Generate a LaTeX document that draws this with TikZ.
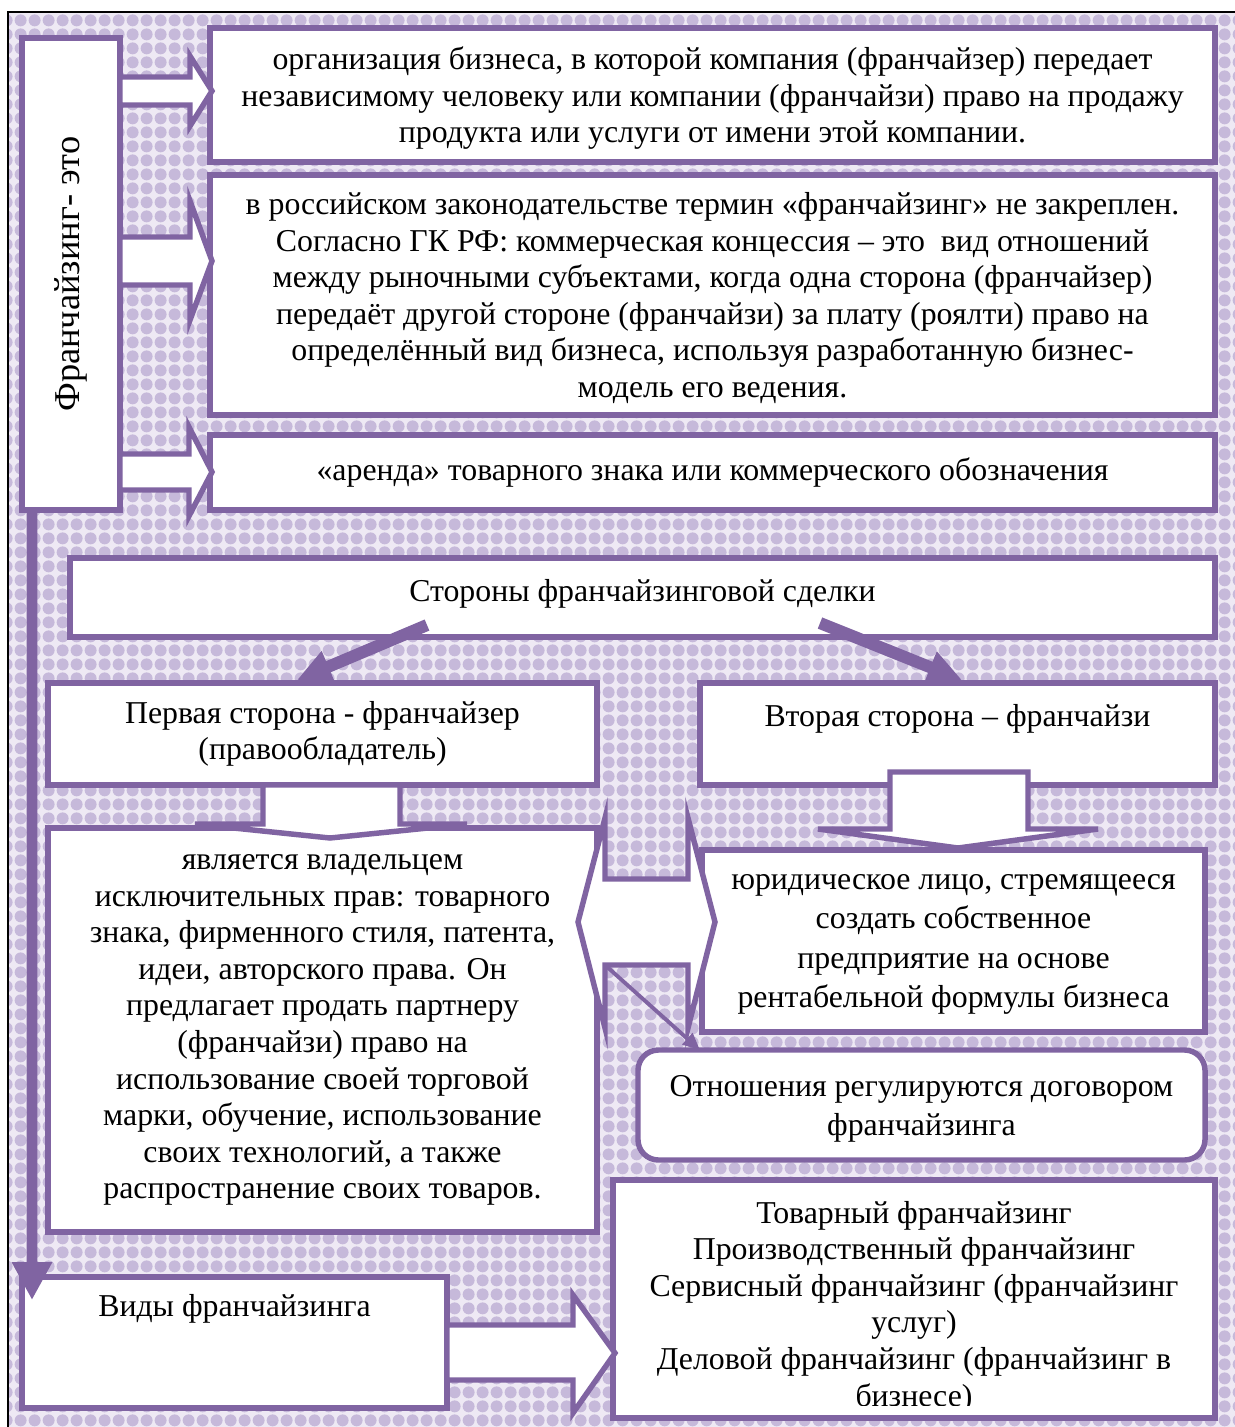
\documentclass[tikz,border=0pt]{standalone}
\usepackage{fontspec}
\setmainfont{Liberation Serif}
\usepackage{graphicx}
\usetikzlibrary{arrows.meta,patterns.meta,calc}
\definecolor{lilac}{HTML}{8064A2}
\definecolor{pearl}{HTML}{C6B9DA}
\definecolor{haze}{HTML}{EEE9F4}
\tikzdeclarepattern{
	name=pearls,
	type=uncolored,
	bottom left={(0pt,0pt)},
	top right={(6pt,6pt)},
	tile size={(6pt,6pt)},
	code={\fill (3pt,3pt) circle (2.7pt);}
}
\begin{document}
\begin{tikzpicture}[x=0.44pt,y=-0.44pt,
		box/.style={draw=lilac,line width=2.4pt,fill=white,inner sep=0pt,outer sep=0pt,
			align=center,font=\fontsize{14}{16.1}\selectfont},
		blockarrow/.style={draw=lilac,line width=2.4pt,fill=white,line join=miter},
		fat/.style={lilac,line width=5.3pt,-{Triangle[length=15pt,width=14pt]}},
		slim/.style={lilac,line width=1.7pt,-{Triangle[length=7.5pt,width=6.5pt]}}]
		% background stuff
		\useasboundingbox (0,0) rectangle (1235,1427);
		\fill[haze] (8,12) rectangle (1235,1427);
		\fill[pattern=pearls,pattern color=pearl] (8,12) rectangle (1235,1427);
		\draw[line width=0.7pt] (8,1427) -- (8,12) -- (1235,12);
		% boxes
		\node[box,minimum width=43.1pt,minimum height=207.7pt,font=\fontsize{16}{18}\selectfont]
			(lbl) at (71,274) {\rotatebox{90}{Франчайзинг- это}};
		\node[box,minimum width=442.2pt,minimum height=59pt,text depth=0pt] (defA) at (712.5,95)
			{организация бизнеса, в которой компания (франчайзер) передает\\
			независимому человеку или компании (франчайзи) право на продажу\\
			продукта или услуги от имени этой компании.};
		\node[box,minimum width=442.2pt,minimum height=105.6pt,text depth=-2pt] (defB) at (712.5,295)
			{в российском законодательстве термин «франчайзинг» не закреплен.\\
			Согласно ГК РФ: коммерческая концессия – это\ \ вид отношений\\
			между рыночными субъектами, когда одна сторона (франчайзер)\\
			передаёт другой стороне (франчайзи) за плату (роялти) право на\\
			определённый вид бизнеса, используя разработанную бизнес-\\
			модель его ведения.};
		\node[box,minimum width=442.2pt,minimum height=33pt] (defC) at (712.5,472.5)
			{«аренда» товарного знака или коммерческого обозначения};
		\node[box,minimum width=503.8pt,minimum height=34.8pt,text depth=6pt] (sides) at (642.5,597.5)
			{Стороны франчайзинговой сделки};
		\node[box,minimum width=241.6pt,minimum height=44.9pt] (first) at (322.5,734)
			{Первая сторона - франчайзер\\ (правообладатель)};
		\node[box,minimum width=226.6pt,minimum height=44.9pt] (second) at (957.5,734)
			{Вторая сторона – франчайзи\\ \mbox{}};
		\node[box,minimum width=241.6pt,minimum height=177.8pt] (owner) at (322.5,1030)
			{является владельцем\\ исключительных прав: товарного\\
			знака, фирменного стиля, патента,\\ идеи, авторского права. Он\\
			предлагает продать партнеру\\ (франчайзи) право на\\
			использование своей торговой\\ марки, обучение, использование\\
			своих технологий, а также\\ распространение своих товаров.};
		\node[box,minimum width=221.3pt,minimum height=80.1pt,text depth=-3pt,
			font=\fontsize{14}{17.2}\selectfont] (licensee) at (953.5,941)
			{юридическое лицо, стремящееся\\ создать собственное\\
			предприятие на основе\\ рентабельной формулы бизнеса};
		\node[box,minimum width=249.5pt,minimum height=48.4pt,rounded corners=9pt,text depth=-2pt,
			font=\fontsize{14}{17.2}\selectfont] (contract) at (921.5,1105)
			{Отношения регулируются договором\\ франчайзинга};
		\node[box,minimum width=187pt,minimum height=57.6pt] (kinds) at (234.5,1342.5)
			{Виды франчайзинга\\ \mbox{}\\ \mbox{}};
		\node[box,minimum width=264.9pt,minimum height=104.7pt] (types) at (914,1299) {};
		\begin{scope}
			\clip (617,1184) rectangle (1211,1405);
			\node[align=center,font=\fontsize{14}{16.1}\selectfont] (typelist) at (914,1307)
				{Товарный франчайзинг\\ Производственный франчайзинг\\
				Сервисный франчайзинг (франчайзинг\\ услуг)\\
				Деловой франчайзинг (франчайзинг в\\ бизнесе)};
		\end{scope}
		% block arrows
		\draw[blockarrow] (120,77) -- (190,77) -- (190,56) -- (212,91) -- (190,126) -- (190,105) -- (120,105) -- cycle;
		\draw[blockarrow] (120,237) -- (190,237) -- (190,201) -- (212,261) -- (190,320) -- (190,285) -- (120,285) -- cycle;
		\draw[blockarrow] (120,454) -- (189,454) -- (189,427) -- (212,472) -- (189,516) -- (189,490) -- (120,490) -- cycle;
		\draw[blockarrow] (447,1325) -- (573,1325) -- (573,1295) -- (615,1353) -- (573,1413) -- (573,1380) -- (447,1380) -- cycle;
		\draw[blockarrow] (263,785) -- (263,824) -- (195,824) -- (330,838) -- (467,824) -- (400,824) -- (400,785) -- cycle;
		\draw[blockarrow] (890,772) -- (890,829) -- (818,829) -- (958,848) -- (1098,829) -- (1028,829) -- (1028,772) -- cycle;
		\draw[blockarrow] (578,922) -- (605,818) -- (605,879) -- (688,879) -- (688,818) -- (715,922)
			-- (688,1028) -- (688,965) -- (605,965) coordinate (fork) -- (605,1028) -- cycle;
		% line arrows
		\draw[fat] ($(sides.south west)+(357,-12)$) -- ($(first.north west)+(249,-3)$);
		\draw[fat] ($(sides.south west)+(750,-14)$) -- ($(second.north west)+(262,-3)$);
		\draw[slim] (fork) -- ($(contract.north west)+(62,0)$);
		\draw[lilac,line width=4.8pt,-{Triangle[length=16.7pt,width=16.7pt]}]
			($(lbl.south west)+(10,0)$) -- ($(kinds.north west)+(10,23)$);
	\end{tikzpicture}
\end{document}
